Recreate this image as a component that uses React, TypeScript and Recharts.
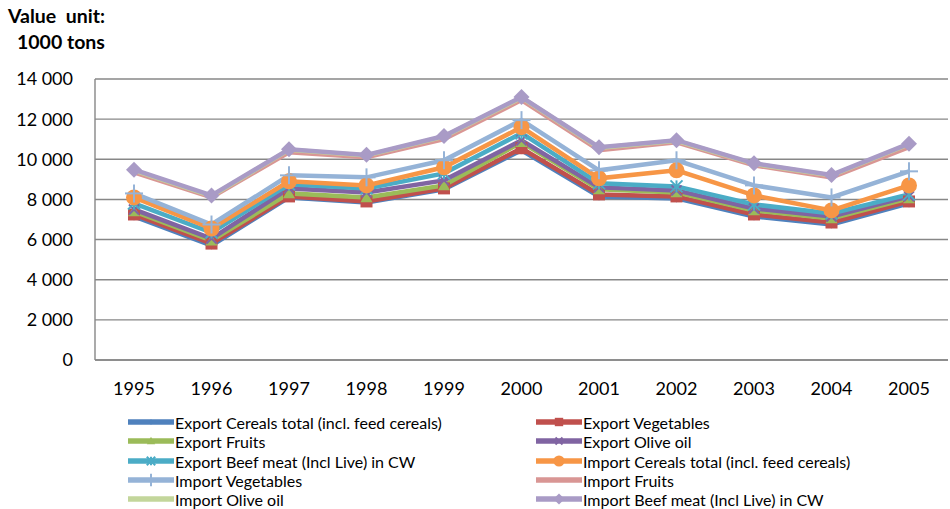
import React from 'react';
import { LineChart, Line, XAxis, YAxis, CartesianGrid } from 'recharts';

const years = ['1995', '1996', '1997', '1998', '1999', '2000', '2001', '2002', '2003', '2004', '2005'];

const exportCereals = [7150, 5700, 8100, 7850, 8500, 10450, 8150, 8050, 7150, 6750, 7800];
const exportVegetables = [7250, 5800, 8150, 7900, 8550, 10550, 8250, 8150, 7250, 6850, 7900];
const exportFruits = [7400, 5950, 8300, 8100, 8700, 10850, 8500, 8350, 7450, 7050, 8050];
const exportOliveOil = [7500, 6050, 8550, 8350, 8950, 10950, 8600, 8450, 7550, 7150, 8150];
const exportBeef = [7800, 6350, 8750, 8550, 9300, 11300, 8800, 8650, 7750, 7300, 8250];
const importCereals = [8100, 6550, 8900, 8700, 9600, 11600, 9050, 9450, 8200, 7450, 8700];
const importVegetables = [8300, 6750, 9200, 9100, 9950, 11950, 9450, 9950, 8700, 8100, 9400];
const importFruits = [9350, 8100, 10350, 10100, 11000, 12950, 10450, 10850, 9700, 9100, 10600];
const importOliveOil = [9450, 8170, 10470, 10190, 11130, 13070, 10570, 10920, 9770, 9190, 10750];
const importBeef = [9480, 8200, 10500, 10220, 11160, 13100, 10600, 10950, 9800, 9220, 10780];

const yTicks = [0, 2000, 4000, 6000, 8000, 10000, 12000, 14000];

type Marker = 'diamond' | 'square' | 'triangle' | 'cross' | 'star' | 'circle' | 'plus' | 'none';

interface Series {
  key: string;
  name: string;
  color: string;
  marker: Marker;
  size: number;
  values: number[];
}

const series: Series[] = [
  { key: 'exportCereals', name: 'Export Cereals total (incl. feed cereals)', color: '#4F81BD', marker: 'diamond', size: 4, values: exportCereals },
  { key: 'exportVegetables', name: 'Export Vegetables', color: '#C0504D', marker: 'square', size: 6, values: exportVegetables },
  { key: 'exportFruits', name: 'Export Fruits', color: '#9BBB59', marker: 'triangle', size: 6, values: exportFruits },
  { key: 'exportOliveOil', name: 'Export Olive oil', color: '#8064A2', marker: 'cross', size: 5, values: exportOliveOil },
  { key: 'exportBeef', name: 'Export Beef meat (Incl Live) in CW', color: '#4BACC6', marker: 'star', size: 6, values: exportBeef },
  { key: 'importCereals', name: 'Import Cereals total (incl. feed cereals)', color: '#F79646', marker: 'circle', size: 8, values: importCereals },
  { key: 'importVegetables', name: 'Import Vegetables', color: '#95B3D7', marker: 'plus', size: 9, values: importVegetables },
  { key: 'importFruits', name: 'Import Fruits', color: '#D99694', marker: 'none', size: 0, values: importFruits },
  { key: 'importOliveOil', name: 'Import Olive oil', color: '#C3D69B', marker: 'none', size: 0, values: importOliveOil },
  { key: 'importBeef', name: 'Import Beef meat (Incl Live) in CW', color: '#A99BC6', marker: 'diamond', size: 8, values: importBeef },
];

const data = years.map((year, i) => {
  const row: Record<string, string | number> = { year };
  series.forEach((s) => {
    row[s.key] = s.values[i];
  });
  return row;
});

const FONT = 'Lato, "Liberation Sans", sans-serif';

function drawMarker(marker: Marker, color: string, s: number, cx: number, cy: number, key?: string) {
  switch (marker) {
    case 'diamond':
      return <polygon key={key} points={`${cx},${cy - s} ${cx + s},${cy} ${cx},${cy + s} ${cx - s},${cy}`} fill={color} />;
    case 'square':
      return <rect key={key} x={cx - s} y={cy - s} width={2 * s} height={2 * s} fill={color} />;
    case 'triangle':
      return <polygon key={key} points={`${cx},${cy - s} ${cx + s},${cy + s * 0.8} ${cx - s},${cy + s * 0.8}`} fill={color} />;
    case 'cross':
      return (
        <g key={key} stroke={color} strokeWidth={2}>
          <line x1={cx - s} y1={cy - s} x2={cx + s} y2={cy + s} />
          <line x1={cx - s} y1={cy + s} x2={cx + s} y2={cy - s} />
        </g>
      );
    case 'star':
      return (
        <g key={key} stroke={color} strokeWidth={2}>
          <line x1={cx - s} y1={cy - s} x2={cx + s} y2={cy + s} />
          <line x1={cx - s} y1={cy + s} x2={cx + s} y2={cy - s} />
          <line x1={cx} y1={cy - s} x2={cx} y2={cy + s} />
        </g>
      );
    case 'circle':
      return <circle key={key} cx={cx} cy={cy} r={s} fill={color} />;
    case 'plus':
      return (
        <g key={key} stroke={color} strokeWidth={2}>
          <line x1={cx} y1={cy - s} x2={cx} y2={cy + s} />
          <line x1={cx - s} y1={cy} x2={cx + s} y2={cy} />
        </g>
      );
    default:
      return <g key={key} />;
  }
}

const makeDot = (s: Series) => (props: any) => {
  const { cx, cy, index } = props;
  return drawMarker(s.marker, s.color, s.size, cx, cy, `${s.key}-${index}`);
};

const formatTick = (v: number) => (v === 0 ? '0' : `${Math.floor(v / 1000)} ${String(v % 1000).padStart(3, '0')}`);

const legendRows = [422, 441, 461, 480, 499];
const legendCols = [128, 536];

function ChartLegend() {
  return (
    <>
      {series.map((s, i) => {
        const row = Math.floor(i / 2);
        const col = i % 2;
        return (
          <div
            key={s.key}
            style={{
              position: 'absolute',
              left: legendCols[col],
              top: legendRows[row] - 10,
              height: 20,
              display: 'flex',
              alignItems: 'center',
              fontFamily: FONT,
              fontSize: 16,
              color: '#000',
              whiteSpace: 'nowrap',
            }}
          >
            <svg width={46} height={18} style={{ marginRight: 1 }}>
              <line x1={0} y1={9} x2={46} y2={9} stroke={s.color} strokeWidth={5.5} />
              {drawMarker(s.marker, s.color, s.size * 0.7, 23, 9)}
            </svg>
            <span>{s.name}</span>
          </div>
        );
      })}
    </>
  );
}

export default function App() {
  return (
    <div style={{ position: 'absolute', left: 0, top: 0, width: 950, height: 509, background: '#fff' }}>
      <div
        style={{
          position: 'absolute',
          left: 8,
          top: 3,
          fontFamily: FONT,
          fontWeight: 700,
          fontSize: 19.5,
          lineHeight: '26px',
          color: '#000',
        }}
      >
        <div>Value&nbsp; unit:</div>
        <div style={{ paddingLeft: 9 }}>1000 tons</div>
      </div>
      <LineChart
        width={950}
        height={509}
        data={data}
        margin={{ top: 79, right: 2, bottom: 109, left: 0 }}
      >
        <CartesianGrid vertical={false} stroke="#878787" strokeWidth={1.4} />
        <XAxis
          dataKey="year"
          height={40}
          padding={{ left: 39, right: 39 }}
          tickLine={false}
          tickSize={0}
          tickMargin={22}
          axisLine={{ stroke: '#878787', strokeWidth: 1.4 }}
          tick={{ fill: '#000', fontFamily: FONT, fontSize: 18 }}
          interval={0}
        />
        <YAxis
          width={95}
          domain={[0, 14000]}
          ticks={yTicks}
          tickFormatter={formatTick}
          tickLine={false}
          tickSize={0}
          tickMargin={22}
          axisLine={{ stroke: '#878787', strokeWidth: 1.4 }}
          tick={{ fill: '#000', fontFamily: FONT, fontSize: 18 }}
          interval={0}
        />
        {series.map((s) => (
          <Line
            key={s.key}
            dataKey={s.key}
            name={s.name}
            type="linear"
            stroke={s.color}
            strokeWidth={4.5}
            dot={makeDot(s)}
            activeDot={false}
            isAnimationActive={false}
          />
        ))}
      </LineChart>
      <ChartLegend />
    </div>
  );
}
